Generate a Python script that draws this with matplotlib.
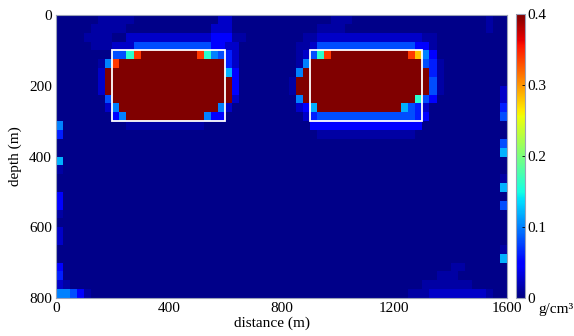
import numpy as np
import matplotlib
matplotlib.use('Agg')
import matplotlib.pyplot as plt
from matplotlib.patches import Rectangle

plt.rcParams['font.family'] = ['Liberation Serif', 'DejaVu Serif']
plt.rcParams['font.size'] = 11

# inverted density contrast (g/cm^3) on a 25 m x 25 m cell grid,
# one string per depth row, groups of 8 columns split by '|'
levels = {'.': 0.004, 'a': 0.013, 'b': 0.026, 'c': 0.045, 'd': 0.062,
          'e': 0.08, 'f': 0.10, 'g': 0.12, 'k': 0.16, 'o': 0.28,
          'r': 0.34, '#': 0.45}

rows = [
    "......aa|aaa.....|.......b|b.......|.......a|aa......|........|.....a..",
    ".....aaa|aa......|......bb|b.......|.....aaa|a.......|........|.....a..",
    "....aaaa|..bbbbbb|bbbbbbcc|caa.....|...aabbb|bbbbbbbb|bbbbaa..|........",
    ".....aaa|bbbeeeee|eeeeeecc|bb......|..aabeee|eeeeeeee|eeecca..|........",
    "........|eekr####|####rkfe|db......|..abekr#|########|##rofc..|........",
    "......af|r#######|########|db......|..af####|########|####eda.|........",
    "......b#|########|########|gc......|..f#####|########|#####da.|........",
    "......b#|########|########|#c......|.a######|########|#####ea.|........",
    "......b#|########|########|#c......|.a######|########|#####ea.|.......b",
    ".......e|########|########|#b......|..f#####|########|###kec..|.......b",
    ".......b|f#######|#######f|b.......|..bcg###|########|#gedb...|.......d",
    "........|cf######|#####fcc|........|...bdeee|eeeeeeee|eeedc...|.......e",
    "f.......|..aaaaaa|aaaaa...|........|....cccc|cccccccc|cccc....|........",
    "d.......|........|........|........|.....aaa|aaaaaaaa|aaa.....|........",
    "........|........|........|........|........|........|........|.......e",
    "........|........|........|........|........|........|........|.......g",
    "g.......|........|........|........|........|........|........|........",
    "a.......|........|........|........|........|........|........|........",
    "........|........|........|........|........|........|........|.......a",
    "........|........|........|........|........|........|........|.......g",
    "c.......|........|........|........|........|........|........|........",
    "c.......|........|........|........|........|........|........|.......e",
    "a.......|........|........|........|........|........|........|........",
    "........|........|........|........|........|........|........|........",
    "b.......|........|........|........|........|........|........|........",
    "b.......|........|........|........|........|........|........|........",
    "........|........|........|........|........|........|........|.......a",
    "........|........|........|........|........|........|........|.......g",
    "c.......|........|........|........|........|........|........|aa......",
    "d.......|........|........|........|........|........|......aa|a.......",
    "ba......|........|........|........|........|........|....aaaa|aaa.....",
    "ffeca...|........|........|........|........|........|..aaabbb|bbbbba..",
]

cell = 25.0
# true bodies: (x0, top depth, width, height) in metres
bodies = [(200, 100, 400, 200), (900, 100, 400, 200)]

xticks = [0, 400, 800, 1200, 1600]
yticks = [0, 200, 400, 600, 800]
cticks = [0, 0.1, 0.2, 0.3, 0.4]
ctick_labels = ['0', '0.1', '0.2', '0.3', '0.4']

grid = np.array([[levels[ch] for ch in r.replace('|', '')] for r in rows])
nz, nx = grid.shape
xe = np.arange(nx + 1) * cell
ze = np.arange(nz + 1) * cell

fig = plt.figure(figsize=(5.74, 3.36), dpi=100)
ax = fig.add_axes([56/574, 1 - 298/336, 451/574, 283/336])
mesh = ax.pcolormesh(xe, ze, grid, cmap='jet', vmin=0, vmax=0.4,
                     shading='flat', rasterized=True)

for x0, z0, w, h in bodies:
    ax.add_patch(Rectangle((x0, z0), w, h, fill=False,
                           edgecolor='white', linewidth=1.3))

ax.set_xlim(0, 1600)
ax.set_ylim(800, 0)
ax.set_xticks(xticks)
ax.set_yticks(yticks)
ax.tick_params(length=0, pad=3)
for s in ax.spines.values():
    s.set_color('#9aa2b8')
    s.set_linewidth(0.8)

ax.set_xlabel('distance (m)')
ax.xaxis.set_label_coords(0.479, -0.065)
ax.set_ylabel('depth (m)')
ax.yaxis.set_label_coords(-0.076, 0.5)

cax = fig.add_axes([516/574, 1 - 298/336, 9/574, 284/336])
cb = fig.colorbar(mesh, cax=cax)
cb.set_ticks(cticks)
cb.set_ticklabels(ctick_labels)
cb.outline.set_edgecolor('#9aa2b8')
cb.outline.set_linewidth(0.8)
cax.tick_params(direction='in', length=2, width=0.6, pad=1.5)
fig.text(556/574, 1 - 309/336, 'g/cm³', ha='center', va='center')

fig.savefig('out.png', dpi=100)
